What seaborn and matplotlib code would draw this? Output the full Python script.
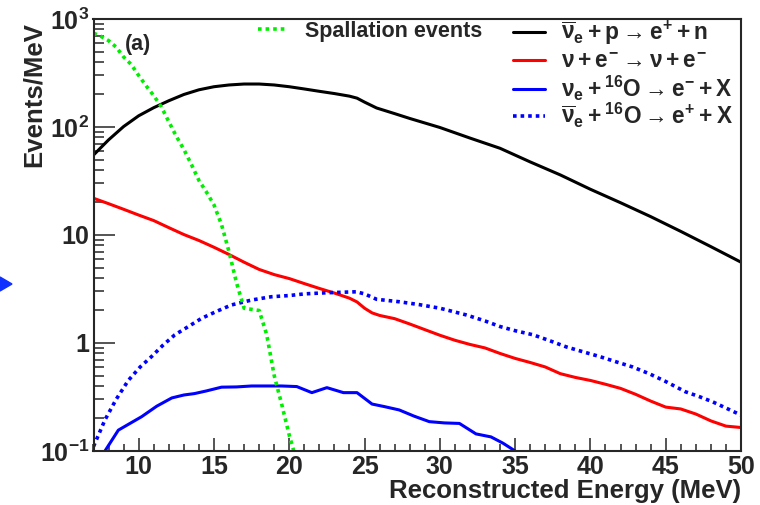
import numpy as np
import pandas as pd
import matplotlib
matplotlib.use("Agg")
import matplotlib.pyplot as plt
from matplotlib.ticker import FixedLocator, MultipleLocator, LogLocator, NullFormatter
from matplotlib.patches import Polygon
import seaborn as sns

# ---- data ----
ibd_x = [7, 8, 9, 10, 11, 12, 13, 14, 15, 16, 17, 18, 19, 20, 21, 22, 23, 24, 24.5, 25, 25.8,
         27, 28, 29, 30, 32, 34, 36, 38, 40, 42, 44, 46, 48, 50]
ibd_y = [55, 76, 101, 127, 151, 175, 200, 221, 236, 245, 250, 250, 245, 236, 225, 214, 204, 193,
         185, 170, 150, 133, 120, 109, 99, 79, 63.5, 47.5, 36, 26.5, 19.9, 14.8, 10.8, 7.8, 5.6]

es_x = [7, 8, 9, 10, 11, 12, 13, 14, 15, 16, 17, 18, 19, 20, 21, 22, 23, 24, 24.5, 25, 25.5, 26,
        27, 28, 29, 30, 31, 32, 33, 34, 35, 36, 37, 38, 39, 40, 41, 42, 43, 44, 45, 46, 47, 48,
        49, 50]
es_y = [21.9, 19.5, 17.3, 15.3, 13.6, 11.7, 10.1, 8.9, 7.7, 6.6, 5.6, 4.8, 4.3, 3.95, 3.55, 3.2,
        2.9, 2.6, 2.4, 2.1, 1.9, 1.8, 1.68, 1.5, 1.33, 1.18, 1.06, 0.97, 0.9, 0.8, 0.72, 0.66,
        0.6, 0.52, 0.48, 0.45, 0.415, 0.38, 0.335, 0.29, 0.255, 0.245, 0.22, 0.19, 0.17, 0.165]

nue_o_x = [7.76, 8.65, 10.2, 11.2, 12.2, 13.0, 13.7, 14.5, 15.5, 16.5, 17.5, 18.5, 19.5, 20.5,
           21.5, 22.5, 23.6, 24.5, 25.5, 26.3, 27.3, 28.3, 29.3, 30.3, 31.3, 32.4, 33.4, 34.2, 35]
nue_o_y = [0.1, 0.156, 0.208, 0.26, 0.31, 0.33, 0.34, 0.36, 0.39, 0.392, 0.40, 0.40, 0.40, 0.395,
           0.347, 0.386, 0.347, 0.347, 0.272, 0.258, 0.24, 0.21, 0.187, 0.182, 0.18, 0.144, 0.135,
           0.118, 0.1]

anue_o_x = [7, 7.76, 8.5, 9.31, 10.1, 10.86, 11.6, 12.4, 13.3, 14.17, 15.2, 16.16, 17.5, 18.8,
            20.0, 21.0, 22.5, 23.5, 24.45, 25.0, 25.8, 27.3, 28.6, 30.0, 31.75, 33.0, 34.0, 35.0,
            36.2, 37.3, 38.4, 39.5, 40.6, 41.7, 42.8, 43.9, 45.0, 46.3, 47.2, 48.1, 49.0, 50]
anue_o_y = [0.11, 0.194, 0.3, 0.45, 0.6, 0.75, 0.95, 1.19, 1.42, 1.69, 1.97, 2.25, 2.5, 2.68,
            2.75, 2.85, 2.92, 2.95, 2.98, 2.85, 2.54, 2.41, 2.27, 2.1, 1.82, 1.6, 1.42, 1.3, 1.19,
            1.05, 0.92, 0.83, 0.75, 0.67, 0.60, 0.52, 0.44, 0.354, 0.32, 0.286, 0.25, 0.215]

spall_x = [7, 7.5, 8, 8.5, 9, 9.5, 10, 10.5, 11, 11.5, 12, 12.5, 13, 13.5, 14, 14.5, 15, 15.5,
           16, 16.5, 17, 17.5, 18, 18.5, 19, 19.5, 20, 20.3]
spall_y = [740, 690, 630, 550, 445, 380, 300, 240, 195, 154, 112, 82, 62, 45, 32, 25, 19, 12.5,
           7, 3.6, 2.1, 2.05, 2.0, 1.2, 0.5, 0.27, 0.14, 0.1]

x_ticks = [10, 15, 20, 25, 30, 35, 40, 45, 50]
y_ticks = [0.1, 1, 10, 100, 1000]
y_tick_labels = [r"$\mathbf{10^{-1}}$", "1", "10", r"$\mathbf{10^{2}}$", r"$\mathbf{10^{3}}$"]

labels = {
    "spall": "Spallation events",
    "ibd": r"$\overline{\nu}_{e} + p \rightarrow e^{+} + n$",
    "es": r"$\nu + e^{-} \rightarrow \nu + e^{-}$",
    "nue_o": r"$\nu_{e} + {}^{16}O \rightarrow e^{-} + X$",
    "anue_o": r"$\overline{\nu}_{e} + {}^{16}O \rightarrow e^{+} + X$",
}

# ---- style ----
sns.set_style("ticks")
plt.rcParams["font.family"] = ["Liberation Sans", "DejaVu Sans"]
plt.rcParams["font.weight"] = "bold"
plt.rcParams["mathtext.fontset"] = "custom"
plt.rcParams["mathtext.rm"] = "Liberation Sans:bold"
plt.rcParams["mathtext.it"] = "Liberation Sans:bold"
plt.rcParams["mathtext.bf"] = "Liberation Sans:bold"
plt.rcParams["mathtext.sf"] = "Liberation Sans:bold"
plt.rcParams["axes.linewidth"] = 1.5

fig = plt.figure(figsize=(7.6, 5.05), dpi=100)
ax = fig.add_axes([93.5 / 760, 1 - 451 / 505, (741 - 93.5) / 760, (451 - 19) / 505])

lw = 2.2
sns.lineplot(x=ibd_x, y=ibd_y, ax=ax, color="black", lw=lw, label=labels["ibd"])
sns.lineplot(x=es_x, y=es_y, ax=ax, color="#ff0000", lw=lw, label=labels["es"])
sns.lineplot(x=nue_o_x, y=nue_o_y, ax=ax, color="#0000ff", lw=lw, label=labels["nue_o"])
sns.lineplot(x=anue_o_x, y=anue_o_y, ax=ax, color="#0000ff", lw=lw + 0.4,
             label=labels["anue_o"])
sns.lineplot(x=spall_x, y=spall_y, ax=ax, color="#00ee00", lw=lw + 0.4,
             label=labels["spall"])
lines = ax.get_lines()
lines[3].set_linestyle((0, (1.0, 1.1)))
lines[4].set_linestyle((0, (1.0, 1.1)))

ax.set_yscale("log")
ax.set_xlim(7, 50)
ax.set_ylim(0.1, 1000)

ax.xaxis.set_major_locator(FixedLocator(x_ticks))
ax.xaxis.set_minor_locator(MultipleLocator(1))
ax.set_xticklabels([str(t) for t in x_ticks])
ax.yaxis.set_major_locator(FixedLocator(y_ticks))
ax.set_yticklabels(y_tick_labels)
ax.yaxis.set_minor_locator(LogLocator(base=10, subs=np.arange(2, 10)))
ax.yaxis.set_minor_formatter(NullFormatter())

ax.tick_params(axis="x", which="major", direction="in", length=9.5, width=1.1,
               labelsize=18, pad=3)
ax.tick_params(axis="x", which="minor", direction="in", length=5, width=1.1)
ax.tick_params(axis="y", which="major", direction="in", length=15, width=1.1,
               labelsize=18, pad=3)
ax.tick_params(axis="y", which="minor", direction="in", length=7, width=1.1)
for t in ax.get_xticklabels() + ax.get_yticklabels():
    t.set_fontweight("bold")

ax.set_xlabel("Reconstructed Energy (MeV)", fontsize=18.5, fontweight="bold",
              ha="right", va="center")
ax.xaxis.set_label_coords(1.0, -0.092)
ax.set_ylabel("Events/MeV", fontsize=18.5, fontweight="bold", ha="right", va="center",
              rotation_mode="anchor")
ax.yaxis.set_label_coords(-0.092, 0.993)

ax.text(0.069, 0.942, "(a)", transform=ax.transAxes, fontsize=15.5, fontweight="bold",
        ha="center", va="center")

# legends: spallation entry, then one entry per row on the right
leg_kw = dict(bbox_transform=fig.transFigure, frameon=False, borderpad=0.0,
              borderaxespad=0, handlelength=1.4)
leg1 = ax.legend([lines[4]], [labels["spall"]], loc="center left",
                 bbox_to_anchor=(258 / 760, 1 - 31 / 505), fontsize=15.5,
                 handletextpad=0.8, **leg_kw)
ax.add_artist(leg1)
row_y = [33, 61, 88, 115]
row_keys = ["ibd", "es", "nue_o", "anue_o"]
for i, (yy, key) in enumerate(zip(row_y, row_keys)):
    lg = ax.legend([lines[i]], [labels[key]], loc="center left",
                   bbox_to_anchor=(513 / 760, 1 - yy / 505), fontsize=16.3,
                   handletextpad=0.7, **leg_kw)
    if i < len(row_y) - 1:
        ax.add_artist(lg)

# small blue arrow mark at the left edge of the reference picture
fig.patches.append(Polygon([[0, 1 - 277 / 505], [12 / 760, 1 - 284 / 505], [0, 1 - 291 / 505]],
                           closed=True, transform=fig.transFigure, color="#1030ff",
                           figure=fig))

for s in ["top", "right", "left", "bottom"]:
    ax.spines[s].set_visible(True)
    ax.spines[s].set_linewidth(1.5)

fig.savefig("out.png", dpi=100)
